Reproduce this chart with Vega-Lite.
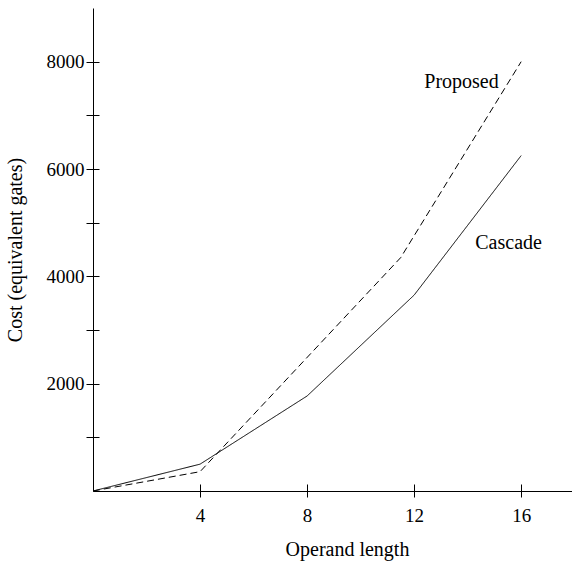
{
  "$schema": "https://vega.github.io/schema/vega-lite/v6.json",
  "width": 479,
  "height": 483,
  "autosize": "none",
  "padding": {"left": 93, "top": 8, "right": 0, "bottom": 72},
  "background": "white",
  "config": {
    "view": {"stroke": null},
    "font": "Liberation Serif",
    "axis": {"grid": false, "domainColor": "black", "tickColor": "black", "labelColor": "black", "titleColor": "black", "labelFont": "Liberation Serif", "titleFont": "Liberation Serif", "labelFontSize": 19, "titleFontSize": 20, "titleFontWeight": "normal", "domainWidth": 1, "tickWidth": 1}
  },
  "datasets": {
    "series": [
      {"n": 0, "cost": 0, "design": "Cascade"},
      {"n": 4, "cost": 500, "design": "Cascade"},
      {"n": 8, "cost": 1770, "design": "Cascade"},
      {"n": 12, "cost": 3650, "design": "Cascade"},
      {"n": 16, "cost": 6250, "design": "Cascade"},
      {"n": 0, "cost": 0, "design": "Proposed"},
      {"n": 4, "cost": 360, "design": "Proposed"},
      {"n": 11.5, "cost": 4350, "design": "Proposed"},
      {"n": 16, "cost": 8000, "design": "Proposed"}
    ],
    "labels": [
      {"n": 13.77, "cost": 7630, "label": "Proposed"},
      {"n": 15.53, "cost": 4630, "label": "Cascade"}
    ]
  },
  "layer": [
    {
      "data": {"name": "series"},
      "mark": {"type": "line", "color": "black", "strokeWidth": 1},
      "encoding": {
        "x": {"field": "n", "type": "quantitative", "scale": {"domain": [0, 17.9], "nice": false, "zero": false},
          "axis": {"orient": "bottom", "title": "Operand length", "values": [4, 8, 12, 16], "tickSize": 6, "labelPadding": 9, "labelFlush": false, "titleX": 254, "titleY": 64, "titleBaseline": "alphabetic"}},
        "y": {"field": "cost", "type": "quantitative", "scale": {"domain": [0, 9000], "nice": false, "zero": false},
          "axis": {"orient": "left", "title": "Cost (equivalent gates)", "values": [1000, 2000, 3000, 4000, 5000, 6000, 7000, 8000], "labelExpr": "datum.value % 2000 == 0 ? datum.value : ''", "tickSize": 7, "labelPadding": 2, "titlePadding": 21, "labelFlush": false}},
        "detail": {"field": "design"},
        "strokeDash": {"field": "design", "type": "nominal", "scale": {"domain": ["Cascade", "Proposed"], "range": [[1, 0], [7, 4]]}, "legend": null}
      }
    },
    {
      "data": {"name": "labels"},
      "mark": {"type": "text", "font": "Liberation Serif", "fontSize": 20, "color": "black", "baseline": "middle", "align": "center"},
      "encoding": {
        "x": {"field": "n", "type": "quantitative", "scale": {"domain": [0, 17.9], "nice": false, "zero": false},
          "axis": {"orient": "bottom", "title": null, "values": [4, 8, 12, 16], "tickSize": -7, "labels": false, "domain": false}},
        "y": {"field": "cost", "type": "quantitative", "scale": {"domain": [0, 9000], "nice": false, "zero": false},
          "axis": {"orient": "left", "title": null, "values": [1000, 2000, 3000, 4000, 5000, 6000, 7000, 8000], "tickSize": -6, "labels": false, "domain": false}},
        "text": {"field": "label"}
      }
    }
  ],
  "resolve": {"scale": {"x": "shared", "y": "shared"}, "axis": {"x": "independent", "y": "independent"}}
}
